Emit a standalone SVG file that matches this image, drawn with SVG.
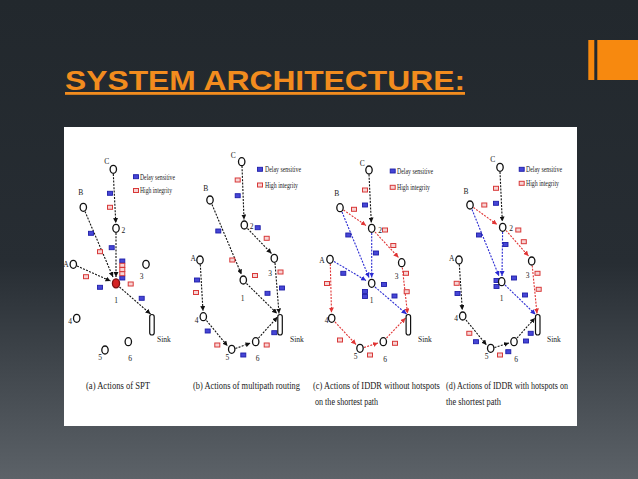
<svg xmlns="http://www.w3.org/2000/svg" xmlns:xlink="http://www.w3.org/1999/xlink" width="638" height="479" viewBox="0 0 638 479">
<defs>
<linearGradient id="bg" x1="0" y1="0" x2="0" y2="1">
<stop offset="0" stop-color="#22282d"/>
<stop offset="0.55" stop-color="#272d33"/>
<stop offset="1" stop-color="#5c6268"/>
</linearGradient>
<marker id="ak" viewBox="0 0 6 6" refX="6" refY="3" markerWidth="5" markerHeight="5" markerUnits="userSpaceOnUse" orient="auto"><path d="M0,0 L6,3 L0,6 z" fill="#111"/></marker>
<marker id="ar" viewBox="0 0 6 6" refX="6" refY="3" markerWidth="5" markerHeight="5" markerUnits="userSpaceOnUse" orient="auto"><path d="M0,0 L6,3 L0,6 z" fill="#e03434"/></marker>
<marker id="ab" viewBox="0 0 6 6" refX="6" refY="3" markerWidth="5" markerHeight="5" markerUnits="userSpaceOnUse" orient="auto"><path d="M0,0 L6,3 L0,6 z" fill="#2a2ad2"/></marker>
<rect id="pB" x="-2.5" y="-2" width="5" height="4" fill="#4646d6" stroke="#1f1fa8" stroke-width="0.9"/>
<rect id="pR" x="-2.5" y="-2" width="5" height="4" fill="#f7d4d4" stroke="#d83838" stroke-width="1"/>
</defs>
<style>
.n ellipse{fill:#fff;stroke:#111;stroke-width:1.3}
.n rect{fill:#fff;stroke:#111;stroke-width:1.2}
.l{font-family:"Liberation Serif","DejaVu Serif",serif;font-size:7.5px;fill:#1a1a1a;text-anchor:middle}
.s{font-family:"Liberation Serif","DejaVu Serif",serif;font-size:7.5px;fill:#1a1a1a}
.lg{font-family:"Liberation Serif","DejaVu Serif",serif;font-size:7.5px;fill:#1a1a1a}
.cap{font-family:"Liberation Serif","DejaVu Serif",serif;font-size:10px;fill:#1a1a1a}
.e{fill:none;stroke-width:1.1;stroke-dasharray:2 1.3}
.k{stroke:#111;marker-end:url(#ak)}
.r{stroke:#e03434;marker-end:url(#ar)}
.b{stroke:#2a2ad2;marker-end:url(#ab)}
</style>
<rect x="0" y="0" width="638" height="479" fill="url(#bg)"/>
<text x="65" y="90" font-family="'Liberation Sans',Arial,sans-serif" font-weight="bold" font-size="28" fill="#f28c1e" text-decoration="underline" textLength="400" lengthAdjust="spacingAndGlyphs">SYSTEM ARCHITECTURE:</text>
<g id="corner-mark" fill="#f7890f">
<rect x="588.3" y="40" width="6" height="40"/>
<rect x="597.3" y="40" width="40.7" height="40"/>
</g>
<rect x="64" y="127" width="513" height="299" fill="#ffffff"/>

<g id="connectors">
<!-- (a) -->
<path class="e k" d="M113.3,174 L115.8,223"/>
<path class="e k" d="M85,211.5 L113,277"/>
<path class="e k" d="M116,233 L116,277"/>
<path class="e k" d="M77,266 L110.5,281"/>
<path class="e k" d="M119.5,287 L150.5,314"/>
<!-- (b) -->
<path class="e k" d="M242,166 L244,219.5"/>
<path class="e k" d="M212,204.5 L241.5,274.5"/>
<path class="e k" d="M247.5,228.5 L271.5,253.5"/>
<path class="e k" d="M275,263 L279,313.5"/>
<path class="e k" d="M246.5,283.5 L277,313.5"/>
<path class="e k" d="M200.3,264.5 L203,311"/>
<path class="e k" d="M206.5,320.5 L227.5,346"/>
<path class="e k" d="M235.5,348.5 L250.5,343"/>
<path class="e k" d="M258.5,338 L277.5,317"/>
<!-- (c) -->
<path class="e k" d="M369,174.5 L371.3,222.5"/>
<path class="e r" d="M343.5,210 L366,225.5"/>
<path class="e b" d="M342,212 L369,277.5"/>
<path class="e b" d="M371.7,233 L371.7,277.5"/>
<path class="e r" d="M375,232 L398.5,257.5"/>
<path class="e b" d="M334,261.5 L366,280.5"/>
<path class="e r" d="M330.3,264 L331.5,312.5"/>
<path class="e b" d="M375,287 L406.5,314"/>
<path class="e r" d="M402.3,267.5 L407.5,313.5"/>
<path class="e r" d="M335,322 L356,344.5"/>
<path class="e r" d="M364,347.5 L378,343"/>
<path class="e r" d="M386.5,338 L405.5,318"/>
<!-- (d) -->
<path class="e k" d="M500,172 L502.3,221.5"/>
<path class="e r" d="M473.5,207.5 L497,224.5"/>
<path class="e b" d="M472,209.5 L499,276"/>
<path class="e b" d="M502.6,232 L502,276"/>
<path class="e r" d="M506,230.5 L528.5,256"/>
<path class="e k" d="M459.3,264.5 L462.3,310"/>
<path class="e b" d="M505,285 L535.5,314.5"/>
<path class="e r" d="M532.2,265.5 L537,313.5"/>
<path class="e k" d="M466,320 L486.5,345"/>
<path class="e k" d="M494.5,347.5 L509,343"/>
<path class="e k" d="M517,338 L535,318"/>
</g>

<g id="packets">
<g id="packets-a">
<use href="#pB" x="110" y="193.3"/><use href="#pB" x="91" y="233.3"/><use href="#pB" x="111.7" y="247.7"/><use href="#pB" x="100" y="287.3"/><use href="#pB" x="141.7" y="298.3"/><use href="#pB" x="122.3" y="261"/><use href="#pB" x="122.3" y="278"/>
<use href="#pR" x="110" y="207.3"/><use href="#pR" x="100" y="251.7"/><use href="#pR" x="86" y="276.7"/><use href="#pR" x="130.7" y="284"/><use href="#pR" x="122.3" y="265.3"/><use href="#pR" x="122.3" y="269.5"/><use href="#pR" x="122.3" y="273.7"/>
</g>
<g id="packets-b">
<use href="#pB" x="237.7" y="195.7"/><use href="#pB" x="257.7" y="227.7"/><use href="#pB" x="218.3" y="231"/><use href="#pB" x="197" y="280"/><use href="#pB" x="282" y="288"/><use href="#pB" x="267.5" y="293.3"/><use href="#pB" x="207.7" y="331"/><use href="#pB" x="243.3" y="355"/><use href="#pB" x="274.3" y="332.7"/>
<use href="#pR" x="237.7" y="180"/><use href="#pR" x="266.7" y="238.3"/><use href="#pR" x="232.3" y="260"/><use href="#pR" x="255" y="275.5"/><use href="#pR" x="280.5" y="272"/><use href="#pR" x="196" y="292.5"/><use href="#pR" x="217.3" y="345"/><use href="#pR" x="266.7" y="345"/>
</g>
<g id="packets-c">
<use href="#pB" x="365" y="205"/><use href="#pB" x="348.3" y="235"/><use href="#pB" x="376" y="253"/><use href="#pB" x="343.3" y="273.3"/><use href="#pB" x="384" y="284.5"/><use href="#pB" x="365" y="291.5"/><use href="#pB" x="365" y="296.5"/><use href="#pB" x="394.5" y="296"/>
<use href="#pR" x="365" y="190"/><use href="#pR" x="354" y="209.3"/><use href="#pR" x="385" y="230"/><use href="#pR" x="393.3" y="245.5"/><use href="#pR" x="327" y="283.5"/><use href="#pR" x="406" y="273.3"/><use href="#pR" x="406.7" y="291.7"/><use href="#pR" x="340" y="340"/><use href="#pR" x="370" y="355"/><use href="#pR" x="395" y="343.3"/>
</g>
<g id="packets-d">
<use href="#pB" x="496" y="203.3"/><use href="#pB" x="479" y="235"/><use href="#pB" x="505.5" y="244.5"/><use href="#pB" x="496.5" y="280.5"/><use href="#pB" x="496.5" y="286.5"/><use href="#pB" x="514" y="278"/><use href="#pB" x="457.5" y="293.5"/><use href="#pB" x="525" y="295"/><use href="#pB" x="476" y="341.7"/><use href="#pB" x="508.3" y="351.7"/><use href="#pB" x="526" y="341"/><use href="#pB" x="530.7" y="333.3"/>
<use href="#pR" x="496" y="188.3"/><use href="#pR" x="484.3" y="205"/><use href="#pR" x="518.3" y="230"/><use href="#pR" x="523.8" y="241.7"/><use href="#pR" x="537.5" y="273.3"/><use href="#pR" x="456.7" y="283.3"/><use href="#pR" x="538.7" y="289.3"/><use href="#pR" x="469.3" y="333.3"/><use href="#pR" x="500" y="355"/>
</g>
</g>

<!-- Panel (a) nodes -->
<g id="a-C" class="n"><ellipse cx="113.3" cy="169.3" rx="3.2" ry="4"/><text class="l" x="106.7" y="164">C</text></g>
<g id="a-B" class="n"><ellipse cx="83.3" cy="207.3" rx="3.2" ry="4"/><text class="l" x="80.7" y="195">B</text></g>
<g id="a-2" class="n"><ellipse cx="116" cy="228.3" rx="3.2" ry="4"/><text class="l" x="123.3" y="232.5">2</text></g>
<g id="a-A" class="n"><ellipse cx="73.3" cy="264.3" rx="3.2" ry="4"/><text class="l" x="66" y="266.5">A</text></g>
<g id="a-3" class="n"><ellipse cx="146" cy="264.3" rx="3.2" ry="4"/><text class="l" x="141.7" y="279">3</text></g>
<g id="a-1" class="n"><ellipse cx="116" cy="283.3" rx="3.6" ry="4.5" style="fill:#d42222;stroke:#7a1010"/><text class="l" x="116" y="302.5">1</text></g>
<g id="a-4" class="n"><ellipse cx="76.7" cy="318.3" rx="3.2" ry="4"/><text class="l" x="70" y="324">4</text></g>
<g id="a-5" class="n"><ellipse cx="105" cy="350" rx="3.2" ry="4"/><text class="l" x="100" y="359.5">5</text></g>
<g id="a-6" class="n"><ellipse cx="128.3" cy="341.7" rx="3.2" ry="4"/><text class="l" x="130" y="360.5">6</text></g>
<g id="a-sink" class="n"><rect x="149.7" y="314.5" width="4.5" height="20.5" rx="2.2"/><text class="s" x="157" y="342">Sink</text></g>
<g id="a-legend"><use href="#pB" x="136" y="176.7"/><use href="#pR" x="136" y="190.5"/><text class="lg" x="140" y="179.5" textLength="35" lengthAdjust="spacingAndGlyphs">Delay sensitive</text><text class="lg" x="140" y="193.3" textLength="32" lengthAdjust="spacingAndGlyphs">High integrity</text></g>
<text class="cap" transform="translate(86,389) scale(0.85,1)" textLength="75.3" lengthAdjust="spacingAndGlyphs">(a) Actions of SPT</text>

<!-- Panel (b) nodes -->
<g id="b-C" class="n"><ellipse cx="241.7" cy="161.7" rx="3.2" ry="4"/><text class="l" x="233.3" y="157.5">C</text></g>
<g id="b-B" class="n"><ellipse cx="210" cy="200" rx="3.2" ry="4"/><text class="l" x="205.7" y="191">B</text></g>
<g id="b-2" class="n"><ellipse cx="244.3" cy="225" rx="3.2" ry="4"/><text class="l" x="251.7" y="229">2</text></g>
<g id="b-3" class="n"><ellipse cx="274.3" cy="258.3" rx="3.2" ry="4"/><text class="l" x="270" y="276">3</text></g>
<g id="b-A" class="n"><ellipse cx="200" cy="260" rx="3.2" ry="4"/><text class="l" x="193.3" y="261">A</text></g>
<g id="b-1" class="n"><ellipse cx="243.3" cy="280" rx="3.2" ry="4"/><text class="l" x="242.7" y="301">1</text></g>
<g id="b-4" class="n"><ellipse cx="203.3" cy="316.7" rx="3.2" ry="4"/><text class="l" x="196.7" y="322.5">4</text></g>
<g id="b-5" class="n"><ellipse cx="231.7" cy="349.3" rx="3.2" ry="4"/><text class="l" x="227.3" y="360">5</text></g>
<g id="b-6" class="n"><ellipse cx="255.7" cy="341.7" rx="3.2" ry="4"/><text class="l" x="257.7" y="361">6</text></g>
<g id="b-sink" class="n"><rect x="277.8" y="314.5" width="4.5" height="20.5" rx="2.2"/><text class="s" x="290" y="342">Sink</text></g>
<g id="b-legend"><use href="#pB" x="260" y="169.3"/><use href="#pR" x="260" y="185"/><text class="lg" x="265" y="172" textLength="36" lengthAdjust="spacingAndGlyphs">Delay sensitive</text><text class="lg" x="265" y="187.7" textLength="33" lengthAdjust="spacingAndGlyphs">High integrity</text></g>
<text class="cap" transform="translate(193,389) scale(0.836,1)" textLength="128" lengthAdjust="spacingAndGlyphs">(b) Actions of multipath routing</text>

<!-- Panel (c) nodes -->
<g id="c-C" class="n"><ellipse cx="369" cy="170" rx="3.2" ry="4"/><text class="l" x="362.3" y="166">C</text></g>
<g id="c-B" class="n"><ellipse cx="340" cy="207.7" rx="3.2" ry="4"/><text class="l" x="336.7" y="196">B</text></g>
<g id="c-2" class="n"><ellipse cx="371.7" cy="228.3" rx="3.2" ry="4"/><text class="l" x="380" y="232.5">2</text></g>
<g id="c-3" class="n"><ellipse cx="401.7" cy="262.7" rx="3.2" ry="4"/><text class="l" x="396.7" y="278.5">3</text></g>
<g id="c-A" class="n"><ellipse cx="330" cy="259.3" rx="3.2" ry="4"/><text class="l" x="322" y="262.5">A</text></g>
<g id="c-1" class="n"><ellipse cx="371.7" cy="283.3" rx="3.2" ry="4"/><text class="l" x="371.7" y="302.5">1</text></g>
<g id="c-4" class="n"><ellipse cx="331.7" cy="318.3" rx="3.2" ry="4"/><text class="l" x="326.7" y="322.5">4</text></g>
<g id="c-5" class="n"><ellipse cx="360" cy="348.3" rx="3.2" ry="4"/><text class="l" x="355.7" y="358.5">5</text></g>
<g id="c-6" class="n"><ellipse cx="383.3" cy="341.7" rx="3.2" ry="4"/><text class="l" x="385" y="362">6</text></g>
<g id="c-sink" class="n"><rect x="406.1" y="314.5" width="4.5" height="20.5" rx="2.2"/><text class="s" x="418" y="342">Sink</text></g>
<g id="c-legend"><use href="#pB" x="392.7" y="171"/><use href="#pR" x="392.7" y="187.3"/><text class="lg" x="397" y="173.8" textLength="36" lengthAdjust="spacingAndGlyphs">Delay sensitive</text><text class="lg" x="397" y="190" textLength="33" lengthAdjust="spacingAndGlyphs">High integrity</text></g>
<text class="cap" transform="translate(313,389) scale(0.84,1)" textLength="151" lengthAdjust="spacingAndGlyphs">(c) Actions of IDDR without hotspots</text>
<text class="cap" transform="translate(315,405) scale(0.81,1)" textLength="78" lengthAdjust="spacingAndGlyphs">on the shortest path</text>

<!-- Panel (d) nodes -->
<g id="d-C" class="n"><ellipse cx="500" cy="167.3" rx="3.2" ry="4"/><text class="l" x="492.7" y="162">C</text></g>
<g id="d-B" class="n"><ellipse cx="470" cy="205" rx="3.2" ry="4"/><text class="l" x="466" y="194">B</text></g>
<g id="d-2" class="n"><ellipse cx="502.7" cy="227.3" rx="3.2" ry="4"/><text class="l" x="511" y="231">2</text></g>
<g id="d-3" class="n"><ellipse cx="531.7" cy="261" rx="3.2" ry="4"/><text class="l" x="527.7" y="277.5">3</text></g>
<g id="d-A" class="n"><ellipse cx="459" cy="260" rx="3.2" ry="4"/><text class="l" x="451.7" y="261">A</text></g>
<g id="d-1" class="n"><ellipse cx="501.7" cy="281.7" rx="3.2" ry="4"/><text class="l" x="501.7" y="300.5">1</text></g>
<g id="d-4" class="n"><ellipse cx="462.7" cy="316" rx="3.2" ry="4"/><text class="l" x="456" y="321">4</text></g>
<g id="d-5" class="n"><ellipse cx="490.7" cy="348.3" rx="3.2" ry="4"/><text class="l" x="486.7" y="358.5">5</text></g>
<g id="d-6" class="n"><ellipse cx="514" cy="341.7" rx="3.2" ry="4"/><text class="l" x="516" y="362">6</text></g>
<g id="d-sink" class="n"><rect x="535.5" y="314.5" width="4.5" height="20.5" rx="2.2"/><text class="s" x="547" y="342">Sink</text></g>
<g id="d-legend"><use href="#pB" x="521.7" y="169.3"/><use href="#pR" x="521.7" y="183.3"/><text class="lg" x="526" y="172" textLength="36" lengthAdjust="spacingAndGlyphs">Delay sensitive</text><text class="lg" x="526" y="186" textLength="33" lengthAdjust="spacingAndGlyphs">High integrity</text></g>
<text class="cap" transform="translate(446,389) scale(0.805,1)" textLength="151.6" lengthAdjust="spacingAndGlyphs">(d) Actions of IDDR with hotspots on</text>
<text class="cap" transform="translate(446,405) scale(0.84,1)" textLength="65.5" lengthAdjust="spacingAndGlyphs">the shortest path</text>
</svg>
